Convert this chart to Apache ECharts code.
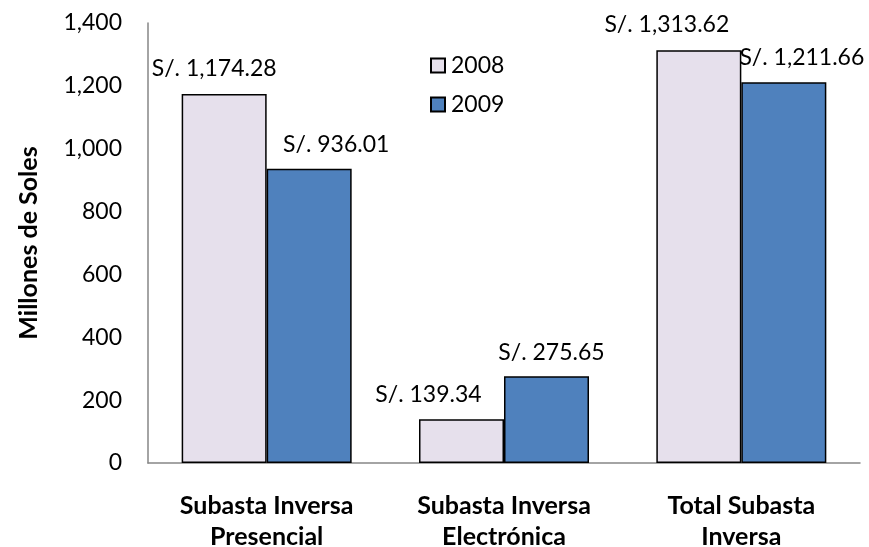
<!DOCTYPE html>
<html><head><meta charset="utf-8">
<script src="https://cdn.jsdelivr.net/npm/echarts@6/dist/echarts.min.js"></script>
<style>html,body{margin:0;padding:0;background:#fff}#c{width:869px;height:547px}</style>
</head><body><div id="c"></div>
<script>
const categories = ['Subasta Inversa\nPresencial', 'Subasta Inversa\nElectrónica', 'Total Subasta\nInversa'];
const values2008 = [1174.28, 139.34, 1313.62];
const values2009 = [936.01, 275.65, 1211.66];
const seriesNames = ['2008', '2009'];
const labelOffsets2008 = [[-10, -9], [-33, -8], [-32, -9]];
const labelOffsets2009 = [[27, -8], [5, -7], [18, -8]];

const FONT = 'Lato, "Open Sans", sans-serif';
function fmt(v) {
  return 'S/. ' + v.toLocaleString('en-US', {minimumFractionDigits: 2, maximumFractionDigits: 2});
}
function mk(vals, offs) {
  return vals.map((v, i) => ({value: v, label: {offset: offs[i]}}));
}
const chart = echarts.init(document.getElementById('c'), null, {renderer: 'canvas'});
chart.setOption({
  animation: false,
  textStyle: {fontFamily: FONT},
  grid: {left: 148, right: 9, top: 23, bottom: 84, containLabel: false, outerBoundsMode: 'none'},
  legend: {
    data: seriesNames, orient: 'vertical', left: 425, top: 49, itemGap: 16,
    itemWidth: 14, itemHeight: 14, icon: 'rect',
    textStyle: {fontFamily: FONT, fontSize: 23, color: '#000', padding: [0, 0, 0, 1]}
  },
  xAxis: {
    type: 'category', data: categories,
    axisLine: {lineStyle: {color: '#868686', width: 1.5}},
    axisTick: {show: false},
    axisLabel: {fontFamily: FONT, fontSize: 25, fontWeight: 'bold', color: '#000', lineHeight: 31, margin: 27}
  },
  yAxis: {
    type: 'value', min: 0, max: 1400, interval: 200,
    name: 'Millones de Soles', nameLocation: 'middle', nameGap: 107,
    nameTextStyle: {fontFamily: FONT, fontSize: 25, fontWeight: 'bold', color: '#000'},
    axisLine: {show: true, lineStyle: {color: '#868686', width: 1.5}},
    axisTick: {show: false},
    splitLine: {show: false},
    axisLabel: {fontFamily: FONT, fontSize: 23, color: '#000', margin: 26,
      formatter: v => v.toLocaleString('en-US')}
  },
  series: [
    {name: seriesNames[0], type: 'bar', data: mk(values2008, labelOffsets2008), barWidth: 85, barGap: '0%',
     itemStyle: {color: '#E6E0EC', borderColor: '#000', borderWidth: 1.5},
     label: {show: true, position: 'top', fontFamily: FONT, fontSize: 23, color: '#000', formatter: p => fmt(p.value)}},
    {name: seriesNames[1], type: 'bar', data: mk(values2009, labelOffsets2009), barWidth: 85, barGap: '0%',
     itemStyle: {color: '#4F81BD', borderColor: '#000', borderWidth: 1.5},
     label: {show: true, position: 'top', fontFamily: FONT, fontSize: 23, color: '#000', formatter: p => fmt(p.value)}}
  ]
});
</script></body></html>
